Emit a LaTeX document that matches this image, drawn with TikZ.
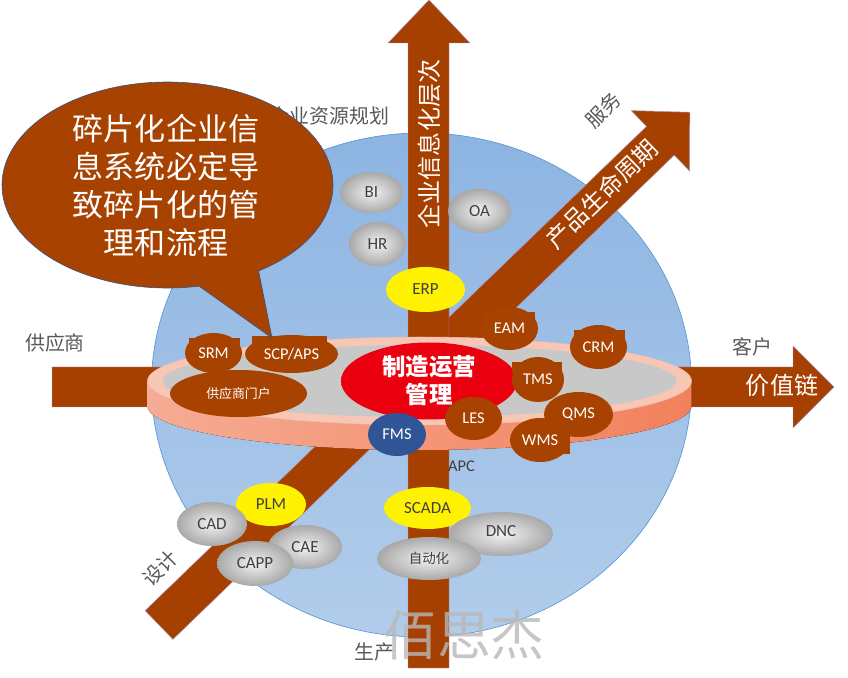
\documentclass[tikz,border=0pt]{standalone}
\usepackage{fontspec}
\setmainfont{Carlito}
\newfontfamily\cjk{Noto Sans CJK SC}
\usepackage{tikz}
\usetikzlibrary{shapes.geometric}

\definecolor{arrowlight}{RGB}{166,64,0}
\definecolor{arrowdark}{RGB}{106,34,0}
\definecolor{nodebrown}{RGB}{168,66,0}
\definecolor{spheretop}{RGB}{141,180,226}
\definecolor{spherebot}{RGB}{178,205,235}
\definecolor{sphererim}{RGB}{91,155,213}
\definecolor{rimpink}{RGB}{248,198,180}
\definecolor{sideleft}{RGB}{245,172,148}
\definecolor{sideright}{RGB}{243,128,92}
\definecolor{discgray}{RGB}{200,200,200}
\definecolor{corered}{RGB}{234,0,14}
\definecolor{coredark}{RGB}{178,0,0}
\definecolor{fmsblue}{RGB}{47,85,151}
\definecolor{labelgray}{RGB}{89,89,89}
\definecolor{textgray}{RGB}{64,64,64}
\definecolor{outlineblue}{RGB}{47,82,143}
\definecolor{arrowedge}{RGB}{170,150,200}

\begin{document}
\begin{tikzpicture}[x=0.03cm, y=0.03cm,
  every node/.style={inner sep=0pt},
  ellnode/.style 2 args={ellipse, minimum width=#1*0.03cm, minimum height=#2*0.03cm},
  graynode/.style 2 args={ellnode={#1}{#2}, inner color=black!5, outer color=black!34,
    text=textgray, font=\fontsize{14.5}{16}\selectfont},
  yellownode/.style 2 args={ellnode={#1}{#2}, fill=yellow, text=textgray,
    font=\fontsize{14.5}{16}\selectfont},
  brownnode/.style 2 args={ellnode={#1}{#2}, fill=nodebrown, text=white,
    font=\fontsize{14}{16}\selectfont},
  axislabel/.style={text=labelgray, font=\cjk\fontsize{17}{20}\selectfont},
  arrowtext/.style={text=white, font=\cjk\fontsize{20.5}{24}\selectfont},
  bigarrow/.style={draw=arrowedge, line width=0.4pt}]
  \useasboundingbox (0,0) rectangle (848,677);

  \draw[sphererim, line width=0.6pt, top color=spheretop, bottom color=spherebot]
    (421.5,292) ellipse [x radius=270, y radius=252];

  \draw[bigarrow, left color=arrowlight, middle color=arrowdark, right color=arrowlight, shading angle=44]
    (172.9,37.6) -- (674.2,521.8) -- (689.5,506) -- (689.8,564.7) -- (631.2,566.4)
    -- (646.5,550.6) -- (145.1,66.4) -- cycle;
  \draw[bigarrow, left color=arrowlight, middle color=arrowdark, right color=arrowlight]
    (52,270) -- (793,270) -- (793,249) -- (834,290) -- (793,331) -- (793,310) -- (52,310) -- cycle;
  \draw[bigarrow, top color=arrowlight, middle color=arrowdark, bottom color=arrowlight]
    (408,9) -- (408,634) -- (388,634) -- (429,677) -- (470,634) -- (449,634) -- (449,9) -- cycle;

  \fill[left color=sideleft, right color=sideright]
    (147.5,296) -- (147.5,271) arc[start angle=180, end angle=360, x radius=272, y radius=44]
    -- (691.5,296) -- cycle;
  \draw[rimpink!85!gray, line width=0.4pt, fill=rimpink] (419.5,296) ellipse [x radius=272, y radius=44];
  \fill[discgray] (419.5,296) ellipse [x radius=257, y radius=36];

  \node[arrowtext, rotate=90] (tinfo) at (429,533) {企业信息化层次};
  \node[arrowtext, rotate=44] (tlife) at (602,483) {产品生命周期};
  \node[arrowtext] (tvalue) at (782,292) {价值链};

  \node[axislabel] (lerp) at (329.5,561) {企业资源规划};
  \node[axislabel, rotate=45] (lservice) at (603,567) {服务};
  \node[axislabel] (lsupplier) at (55,334) {供应商};
  \node[axislabel] (lcustomer) at (752,330) {客户};
  \node[axislabel, rotate=45] (ldesign) at (160,109) {设计};
  \node[axislabel] (lprod) at (374,25) {生产};

  \node[graynode={63}{41}] (bi) at (371.5,484.5) {BI};
  \node[graynode={57}{44}] (hr) at (377.5,433) {HR};
  \node[graynode={63}{44}] (oa) at (479.5,466) {OA};
  \node[yellownode={79}{45}] (erp) at (425.5,387.5) {ERP};

  \node[ellnode={176}{77}, left color=corered, middle color=coredark, right color=corered,
    text=white, align=center, font=\cjk\bfseries\fontsize{20}{24}\selectfont] (core) at (429,296)
    {制造运营\\管理};

  \fill[nodebrown] (485,365) rectangle (535,355);
  \node[brownnode={57}{43}] (eam) at (509.5,348.5) {EAM};
  \fill[nodebrown] (574,347) rectangle (625,337);
  \node[brownnode={57}{44}] (crm) at (598.5,330) {CRM};
  \fill[nodebrown] (512,315) rectangle (562,305);
  \node[brownnode={52}{45}] (tms) at (538,297.5) {TMS};
  \node[brownnode={69}{45}] (qms) at (578.5,262.5) {QMS};
  \fill[nodebrown] (520,223) rectangle (570,244);
  \node[brownnode={60}{44}] (wms) at (540,237) {WMS};
  \node[brownnode={57}{43}] (les) at (473.5,258.5) {LES};
  \node[ellnode={58}{43}, fill=fmsblue, text=white, font=\fontsize{14}{16}\selectfont] (fms) at (397,242.5) {FMS};
  \node[text=textgray, font=\fontsize{14}{16}\selectfont] (apc) at (461.5,211) {APC};

  \fill[nodebrown] (189,339) rectangle (240,329);
  \node[brownnode={57}{40}] (srm) at (213.5,324) {SRM};
  \fill[nodebrown] (252,341) rectangle (327,331);
  \node[brownnode={93}{38}] (scp) at (291.5,323) {SCP/APS};
  \node[brownnode={137}{47}, font=\cjk\fontsize{11}{13}\selectfont] (portal) at (238.5,283.5) {供应商门户};

  \node[yellownode={70}{43}] (plm) at (271,172.5) {PLM};
  \node[graynode={70}{44}] (cad) at (212,153) {CAD};
  \node[graynode={74}{44}] (cae) at (305,130) {CAE};
  \node[graynode={76}{45}] (capp) at (255,113.5) {CAPP};
  \node[yellownode={87}{42}] (scada) at (427.5,169) {SCADA};
  \node[graynode={104}{44}] (dnc) at (501,143) {\raisebox{5pt}{DNC}};
  \node[graynode={104}{43}, font=\cjk\fontsize{11.5}{13}\selectfont] (auto) at (429,118.5) {自动化};

  \draw[outlineblue, line width=0.5pt, fill=nodebrown]
    (258.6,406) arc[start angle=-56.6, end angle=281, x radius=165.5, y radius=103]
    -- (272,339) -- cycle;
  \node[text=white, align=center, font=\cjk\fontsize{26.5}{32.3}\selectfont] (callout) at (166,491.5)
    {碎片化企业信\\息系统必定导\\致碎片化的管\\理和流程};

  \node[text=black!28, opacity=0.8, font=\cjk\fontsize{46}{50}\selectfont] (mark) at (464,42) {佰思杰};
\end{tikzpicture}
\end{document}
